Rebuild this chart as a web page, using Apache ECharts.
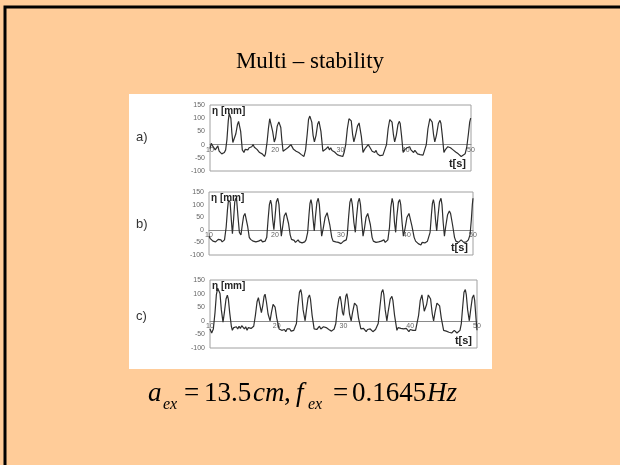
<!DOCTYPE html>
<html>
<head>
<meta charset="utf-8">
<script src="https://cdn.jsdelivr.net/npm/echarts@6/dist/echarts.min.js"></script>
<style>
html,body{margin:0;padding:0;background:#FFCC99;}
#chart{width:620px;height:465px;}
</style>
</head>
<body>
<div id="chart"></div>
<script>
// ---- data: [t (s), eta (mm)] ----
const seriesA = [[10.0,-15],[10.2,5],[10.4,-5],[10.6,0],[10.8,-20],[11.0,-15],[11.2,-5],[11.4,-25],[11.6,-20],[11.8,-35],[12.0,-40],[12.2,-30],
[12.4,-20],[12.6,20],[12.8,90],[12.95,118],[13.08,122],[13.2,100],[13.35,45],[13.5,8],[13.7,12],[13.95,40],[14.2,75],[14.38,88],[14.52,84],[14.7,50],[14.95,-20],
[15.2,-30],[15.4,-18],[15.6,-25],[15.8,-20],[16.0,-12],[16.2,-18],[16.4,-8],[16.6,0],[16.8,-10],[17.0,-5],[17.2,-18],[17.4,-22],[17.6,-30],[17.8,-25],[18.0,-35],[18.2,-30],[18.35,-45],
[18.5,-35],[18.75,10],[18.95,60],[19.15,98],[19.3,104],[19.45,92],[19.6,50],[19.85,10],[20.05,25],[20.3,70],[20.55,86],[20.7,88],[20.85,65],[21.0,20],[21.2,-25],
[21.4,-30],[21.6,-18],[21.8,-22],[22.0,-10],[22.2,-15],[22.4,0],[22.6,-5],[22.8,-18],[23.0,-12],[23.2,-25],[23.4,-20],[23.6,-30],[23.8,-25],[24.0,-38],[24.2,-32],[24.4,-45],
[24.65,-20],[24.9,40],[25.1,95],[25.3,108],[25.45,110],[25.6,85],[25.8,35],[26.0,10],[26.25,35],[26.5,78],[26.7,88],[26.85,85],[27.0,50],[27.3,-25],
[27.5,-30],[27.7,-18],[27.9,-15],[28.1,-8],[28.3,-20],[28.5,-12],[28.7,-22],[28.9,-15],[29.1,-28],[29.3,-25],[29.5,-38],[29.7,-32],[29.9,-42],[30.1,-35],[30.35,-45],
[30.55,-30],[30.8,0],[31.05,60],[31.3,98],[31.5,104],[31.65,90],[31.85,40],[32.05,10],[32.3,35],[32.6,70],[32.85,82],[33.0,75],[33.2,30],[33.45,-30],
[33.65,-20],[33.85,-12],[34.05,-18],[34.25,0],[34.45,-8],[34.65,-15],[34.85,-25],[35.05,-20],[35.25,-30],[35.45,-22],[35.65,-35],[35.85,-30],[36.05,-42],[36.25,-35],[36.5,-40],[36.75,-45],
[37.05,0],[37.3,60],[37.55,95],[37.75,100],[37.9,85],[38.1,40],[38.3,10],[38.55,35],[38.8,75],[39.0,88],[39.15,80],[39.35,35],[39.6,-30],
[39.8,-20],[40.0,-25],[40.2,-12],[40.4,-18],[40.6,-8],[40.8,-20],[41.0,-15],[41.2,-30],[41.4,-22],[41.6,-28],[41.8,-35],[42.0,-30],[42.2,-38],[42.45,-32],[42.65,-40],[42.85,-40],
[43.15,0],[43.4,60],[43.7,98],[43.9,100],[44.05,85],[44.25,40],[44.45,10],[44.7,35],[45.0,80],[45.25,92],[45.4,80],[45.6,35],[45.85,-30],
[46.05,-20],[46.25,-25],[46.45,-8],[46.65,-5],[46.85,-12],[47.05,-8],[47.25,-20],[47.45,-18],[47.65,-28],[47.85,-25],[48.05,-35],[48.25,-30],[48.5,-45],[48.8,-40],[49.1,-35],
[49.35,-10],[49.6,40],[49.8,85],[49.95,100],[50.0,102]];

const seriesB = [[10.0,-25],[10.2,-35],[10.4,-30],[10.6,-45],[10.8,-40],[11.0,-48],[11.2,-42],[11.4,-38],[11.6,-45],[11.8,-40],[12.0,-48],[12.2,-50],
[12.35,-40],[12.6,10],[12.8,80],[12.95,118],[13.08,125],[13.2,110],[13.38,40],[13.55,-15],[13.72,40],[13.9,110],[14.05,125],[14.2,115],[14.4,50],[14.6,-10],[14.84,-20],[15.05,20],[15.25,55],[15.45,65],[15.6,58],[15.85,15],[16.1,-30],
[16.3,-38],[16.5,-42],[16.7,-45],[16.9,-50],[17.1,-48],[17.3,-55],[17.5,-45],[17.7,-50],[17.9,-40],[18.1,-48],[18.3,-50],[18.5,-45],
[18.75,-30],[18.95,40],[19.15,100],[19.33,118],[19.48,100],[19.65,40],[19.83,0],[20.0,50],[20.2,110],[20.42,125],[20.6,100],[20.78,30],[20.96,-25],[21.15,10],[21.4,55],[21.65,68],[21.8,62],[22.05,25],[22.3,-20],
[22.5,-38],[22.7,-45],[22.9,-42],[23.1,-50],[23.3,-45],[23.5,-40],[23.7,-48],[23.9,-45],[24.1,-52],[24.3,-45],[24.5,-48],[24.7,-40],
[24.95,-10],[25.15,60],[25.3,105],[25.45,120],[25.6,100],[25.78,40],[25.95,-5],[26.12,50],[26.35,110],[26.55,125],[26.72,100],[26.9,30],[27.07,-25],[27.3,5],[27.6,50],[27.9,68],[28.05,62],[28.3,20],[28.6,-30],
[28.8,-45],[29.0,-40],[29.2,-48],[29.4,-42],[29.6,-50],[29.8,-45],[30.0,-55],[30.2,-48],[30.4,-45],[30.6,-50],[30.8,-40],
[30.95,-20],[31.15,50],[31.35,110],[31.55,125],[31.72,100],[31.95,30],[32.17,-10],[32.35,50],[32.58,110],[32.78,125],[32.95,100],[33.15,30],[33.34,-25],[33.55,5],[33.8,50],[34.05,65],[34.2,58],[34.45,20],[34.71,-30],
[34.9,-45],[35.1,-42],[35.3,-50],[35.5,-45],[35.7,-48],[35.9,-55],[36.1,-45],[36.3,-42],[36.5,-40],[36.7,-50],[36.9,-45],[37.1,-40],
[37.35,10],[37.55,90],[37.75,125],[37.92,105],[38.1,30],[38.28,-10],[38.45,50],[38.7,110],[38.9,120],[39.05,100],[39.25,30],[39.45,-25],[39.7,5],[40.0,50],[40.3,65],[40.45,58],[40.75,15],[41.08,-30],
[41.3,-45],[41.5,-50],[41.7,-55],[41.9,-52],[42.1,-60],[42.3,-50],[42.5,-45],[42.7,-52],[42.9,-50],[43.1,-45],[43.3,-40],
[43.5,-10],[43.7,60],[43.85,105],[44.0,120],[44.15,100],[44.32,40],[44.5,-5],[44.68,50],[44.92,110],[45.15,125],[45.3,100],[45.48,30],[45.67,-25],[45.85,10],[46.15,60],[46.42,75],[46.6,65],[46.9,20],[47.2,-30],
[47.4,-45],[47.6,-42],[47.8,-50],[48.0,-45],[48.2,-40],[48.4,-45],[48.6,-50],[48.8,-45],[49.0,-48],[49.15,-42],[49.3,-40],
[49.55,-20],[49.75,40],[49.9,100],[50.0,125]];

const seriesC = [[10.0,-30],[10.25,-45],[10.5,-30],[10.75,30],[10.95,95],[11.15,120],[11.35,124],[11.5,100],[11.7,40],[11.95,-5],[12.15,30],[12.4,80],[12.6,94],[12.75,80],[12.95,30],[13.2,-20],[13.35,-35],
[13.55,-25],[13.75,-32],[13.95,-22],[14.15,-30],[14.35,-20],[14.55,-28],[14.75,-18],[14.95,-25],[15.15,-30],[15.35,-22],[15.55,-35],[15.75,-25],[15.95,-30],[16.15,-28],[16.35,-35],
[16.55,-20],[16.8,20],[17.05,70],[17.25,85],[17.45,60],[17.7,30],[17.9,55],[18.1,90],[18.25,98],[18.45,70],[18.7,25],[19.0,0],[19.2,30],[19.45,60],[19.6,65],[19.75,50],[20.0,10],[20.35,-30],
[20.55,-25],[20.75,-35],[20.95,-28],[21.15,-32],[21.35,-40],[21.55,-30],[21.75,-35],[21.95,-30],[22.15,-38],[22.35,-40],[22.55,-35],[22.75,-38],
[22.95,-10],[23.15,50],[23.4,105],[23.6,115],[23.75,95],[23.95,40],[24.25,0],[24.45,40],[24.7,85],[24.9,95],[25.05,80],[25.3,20],[25.6,-30],
[25.8,-25],[26.0,-32],[26.2,-28],[26.4,-20],[26.6,-30],[26.8,-25],[27.0,-22],[27.2,-15],[27.4,-25],[27.6,-28],[27.8,-32],[28.0,-30],[28.2,-38],[28.4,-32],[28.6,-30],
[28.85,-10],[29.05,40],[29.3,80],[29.5,90],[29.65,70],[29.85,30],[30.0,20],[30.15,50],[30.35,90],[30.5,100],[30.65,80],[30.9,25],[31.15,0],[31.35,30],[31.65,65],[31.85,70],[32.0,55],[32.25,10],[32.6,-30],
[32.8,-35],[33.0,-28],[33.2,-35],[33.4,-40],[33.6,-32],[33.8,-38],[34.0,-30],[34.2,-35],[34.4,-40],[34.6,-35],[34.8,-32],[35.0,-30],
[35.2,-10],[35.45,50],[35.7,105],[35.9,115],[36.05,95],[36.25,40],[36.5,0],[36.7,35],[37.0,80],[37.25,90],[37.4,75],[37.65,20],[38.0,-35],
[38.2,-25],[38.4,-32],[38.6,-28],[38.8,-22],[39.0,-30],[39.2,-35],[39.4,-28],[39.6,-32],[39.8,-40],[40.0,-32],[40.2,-30],[40.4,-35],[40.6,-38],[40.8,-35],[41.0,-30],
[41.25,20],[41.5,75],[41.75,95],[41.9,70],[42.1,35],[42.25,30],[42.45,60],[42.7,95],[42.9,100],[43.05,80],[43.3,25],[43.5,0],[43.7,30],[44.0,65],[44.25,70],[44.4,55],[44.65,10],[45.0,-35],
[45.2,-30],[45.4,-38],[45.6,-35],[45.8,-42],[46.0,-35],[46.2,-45],[46.4,-38],[46.6,-35],[46.8,-40],[47.0,-45],[47.2,-38],[47.45,-35],
[47.65,-10],[47.85,50],[48.05,105],[48.25,115],[48.4,95],[48.6,40],[48.85,0],[49.05,40],[49.3,85],[49.5,95],[49.65,75],[49.85,10],[50.0,-35]];

const panelLabels = ['a)', 'b)', 'c)'];
const titleText = 'Multi \u2013 stability';
const yTicks = {min: -100, max: 150, interval: 50};
const xTicks = {min: 10, max: 50, interval: 10};

// ---- layout ----
const grids = [
  {left: 210, top: 105, width: 261, height: 66},
  {left: 209, top: 192, width: 264, height: 63},
  {left: 210, top: 280, width: 267, height: 68}
];
const labelY = [137, 224, 316];
const serif = '"Liberation Serif","Times New Roman",serif';
const sans = '"Liberation Sans",Arial,sans-serif';

const chart = echarts.init(document.getElementById('chart'), null, {renderer: 'canvas'});

const xAxes = [], yAxes = [], series = [];
const allData = [seriesA, seriesB, seriesC];
grids.forEach((g, i) => {
  // the time axis sits on eta = 0
  const zeroOffset = -g.height * (0 - yTicks.min) / (yTicks.max - yTicks.min);
  xAxes.push({
    gridIndex: i, type: 'value', min: xTicks.min, max: xTicks.max, interval: xTicks.interval,
    position: 'bottom', offset: zeroOffset,
    axisLine: {onZero: false, lineStyle: {color: '#8a8a8a', width: 1}},
    axisTick: {show: false}, splitLine: {show: false},
    axisLabel: {fontSize: 7, color: '#666', margin: 2, fontFamily: sans}
  });
  yAxes.push({
    gridIndex: i, type: 'value', min: yTicks.min, max: yTicks.max, interval: yTicks.interval,
    axisLine: {show: false}, axisTick: {show: false}, splitLine: {show: false},
    axisLabel: {fontSize: 7, color: '#666', margin: 5, fontFamily: sans}
  });
  series.push({
    type: 'line', xAxisIndex: i, yAxisIndex: i, data: allData[i],
    showSymbol: false, smooth: false, silent: true,
    lineStyle: {color: '#2e2e2e', width: 1.2}
  });
});

const graphics = [
  {type: 'rect', z: -10, shape: {x: 129, y: 94, width: 363, height: 275}, style: {fill: '#ffffff'}},
  {type: 'polyline', shape: {points: [[5, 465], [5, 7], [620, 7]]}, style: {stroke: '#000', lineWidth: 3, fill: null}},
  {type: 'text', style: {text: titleText, x: 310, y: 62, font: '23px ' + serif, fill: '#000', textAlign: 'center', textVerticalAlign: 'middle'}}
];
panelLabels.forEach((t, i) => {
  graphics.push({type: 'text', style: {text: t, x: 136, y: labelY[i], font: '13px ' + sans, fill: '#333', textAlign: 'left', textVerticalAlign: 'middle'}});
  const g = grids[i];
  graphics.push({type: 'text', style: {text: '\u03b7 [mm]', x: g.left + 2, y: g.top + 6, font: 'bold 10px ' + sans, fill: '#222', textAlign: 'left', textVerticalAlign: 'middle'}});
  graphics.push({type: 'text', style: {text: 't[s]', x: g.left + g.width - 5, y: g.top + g.height - 7, font: 'bold 11px ' + sans, fill: '#222', textAlign: 'right', textVerticalAlign: 'middle'}});
});
// formula: a_ex = 13.5cm, f_ex = 0.1645Hz
const fMain = 394, fSub = 405;
const formula = [
  ['a', 148, fMain, 'italic 27px'],
  ['ex', 163, fSub, 'italic 16px'],
  ['=', 184, fMain, '27px'],
  ['13.5', 204, fMain, '27px'],
  ['cm', 253, fMain, 'italic 27px'],
  [',', 284, fMain, '27px'],
  ['f', 296, fMain, 'italic 27px'],
  ['ex', 308, fSub, 'italic 16px'],
  ['=', 333, fMain, '27px'],
  ['0.1645', 352, fMain, '27px'],
  ['Hz', 427, fMain, 'italic 27px']
];
formula.forEach(f => {
  graphics.push({type: 'text', style: {text: f[0], x: f[1], y: f[2], font: f[3] + ' ' + serif, fill: '#000', textAlign: 'left', textVerticalAlign: 'middle'}});
});

chart.setOption({
  backgroundColor: '#FFCC99',
  animation: false,
  grid: grids.map(g => Object.assign({show: true, borderColor: '#a0a0a0', borderWidth: 1, backgroundColor: 'transparent', containLabel: false}, g)),
  xAxis: xAxes,
  yAxis: yAxes,
  series: series,
  graphic: graphics
});
</script>
</body>
</html>
